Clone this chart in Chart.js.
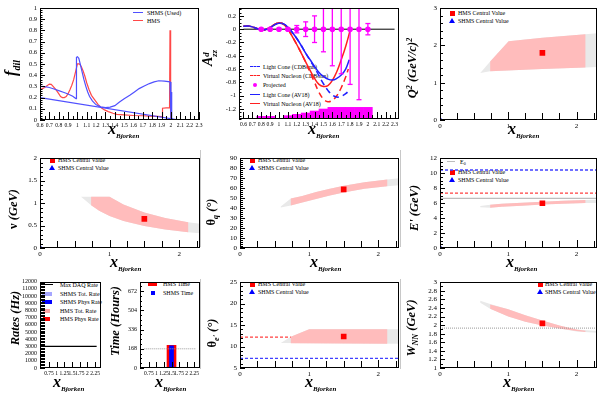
<!DOCTYPE html>
<html><head><meta charset="utf-8">
<script src="https://cdn.jsdelivr.net/npm/chart.js@4.4.1/dist/chart.umd.min.js"></script>
<style>
html,body{margin:0;padding:0;background:#fff;}
#root{position:relative;width:600px;height:400px;overflow:hidden;font-family:"Liberation Serif","Times New Roman",serif;color:#000;}
canvas{position:absolute;z-index:2;}
.lg{position:absolute;z-index:1;font-size:6px;line-height:6px;white-space:nowrap;}
.sym{position:absolute;z-index:1;}
.yt{position:absolute;z-index:3;transform:translate(-50%,-50%) rotate(-90deg);font-weight:bold;font-style:italic;font-size:12.5px;line-height:14px;white-space:nowrap;}
.xt{position:absolute;z-index:3;font-weight:bold;font-style:italic;font-size:16px;line-height:16px;white-space:nowrap;}
.xt .s{font-size:7px;position:relative;top:4px;}
.yt .sb{font-size:0.65em;position:relative;top:0.35em;}
.yt .sp{font-size:0.65em;position:relative;top:-0.45em;}
.yt .stk{display:inline-block;font-size:0.7em;line-height:0.85em;vertical-align:-0.55em;text-align:left;}
.pad{position:absolute;width:1px;background:#c8c8c8;z-index:0;}
</style></head>
<body><div id="root"></div>
<script>
// ---------------- DATA ----------------
// Panel 1: dilution factor vs x
const fdilShmsX = [0.6,0.65,0.7,0.75,0.8,0.85,0.9,0.95,0.975,0.985,0.99,1.0,1.015,1.03,1.05,1.07,1.09,1.11,1.13,1.16,1.2,1.25,1.3,1.35,1.4,1.45,1.5,1.56,1.61,1.66,1.72,1.77,1.82,1.87,1.93,1.99,2.0,2.004,2.008,2.09,0.6];
const fdilShmsY = [0.30,0.298,0.29,0.277,0.262,0.248,0.232,0.212,0.197,0.19,0.56,0.565,0.55,0.5,0.43,0.36,0.3,0.25,0.21,0.17,0.135,0.118,0.11,0.115,0.128,0.16,0.19,0.22,0.25,0.28,0.305,0.325,0.34,0.35,0.346,0.34,0.0,0.25,0.0,0.0,0.2];
const fdilHmsX = [0.6,0.625,0.65,0.675,0.7,0.72,0.74,0.77,0.8,0.82,0.84,0.86,0.88,0.9,0.92,0.94,0.96,0.98,1.0,1.02,1.04,1.06,1.08,1.1,1.125,1.15,1.185,1.22,1.255,1.29,1.33,1.38,1.42,1.5,1.6,1.7,1.77,1.85,1.905,1.91,1.95,1.985,1.99,1.993,1.997,2.0];
const fdilHmsY = [0.27,0.28,0.29,0.305,0.32,0.318,0.30,0.27,0.235,0.21,0.2,0.2,0.21,0.235,0.27,0.31,0.36,0.43,0.5,0.5,0.48,0.44,0.39,0.33,0.27,0.22,0.18,0.14,0.11,0.09,0.075,0.06,0.05,0.045,0.04,0.038,0.035,0.033,0.03,0.105,0.108,0.108,0.8,0.62,0.3,0.0];
const fdilXTicks = [0.6,0.7,0.8,0.9,1,1.1,1.2,1.3,1.4,1.5,1.6,1.7,1.8,1.9,2,2.1,2.2,2.3];
const fdilYTicks = [0,0.1,0.2,0.3,0.4,0.5,0.6,0.7,0.8,0.9,1];

// Panel 2: tensor asymmetry A_zz
const lcAv18X  = [0.6,0.65,0.7,0.75,0.8,0.85,0.9,0.95,1.0,1.05,1.1,1.15,1.2,1.25,1.3,1.35,1.4,1.45,1.5,1.55,1.6,1.65,1.7,1.75,1.79];
const lcAv18Y  = [0.044,0.047,0.035,0.01,-0.01,-0.005,0.025,0.065,0.09,0.08,0.03,-0.05,-0.14,-0.245,-0.36,-0.46,-0.56,-0.65,-0.71,-0.75,-0.765,-0.74,-0.69,-0.6,-0.46];
const lcCdbX   = [0.6,0.65,0.7,0.75,0.8,0.85,0.9,0.95,1.0,1.05,1.1,1.15,1.2,1.25,1.3,1.35,1.4,1.45,1.5,1.55,1.6,1.65,1.7,1.75,1.79];
const lcCdbY   = [0.044,0.047,0.035,0.01,-0.01,-0.005,0.025,0.065,0.09,0.08,0.03,-0.05,-0.14,-0.245,-0.36,-0.47,-0.58,-0.7,-0.82,-0.92,-0.99,-1.02,-1.01,-0.97,-0.92];
const vnAv18X  = [0.6,0.65,0.7,0.75,0.8,0.85,0.9,0.95,1.0,1.05,1.1,1.15,1.2,1.25,1.3,1.35,1.4,1.45,1.5,1.55,1.6,1.65,1.7,1.75,1.8];
const vnAv18Y  = [0.044,0.047,0.035,0.01,-0.012,-0.005,0.03,0.07,0.095,0.075,0.0,-0.11,-0.23,-0.36,-0.49,-0.62,-0.74,-0.83,-0.86,-0.85,-0.77,-0.64,-0.46,-0.26,-0.02];
const vnCdbX   = [0.6,0.65,0.7,0.75,0.8,0.85,0.9,0.95,1.0,1.05,1.1,1.15,1.2,1.25,1.3,1.35,1.4,1.45,1.5,1.55,1.6,1.65,1.7,1.75,1.78];
const vnCdbY   = [0.044,0.047,0.035,0.01,-0.012,-0.005,0.03,0.07,0.095,0.075,0.0,-0.11,-0.23,-0.36,-0.5,-0.65,-0.8,-0.95,-1.05,-1.09,-1.07,-1.0,-0.88,-0.72,-0.6];
const projX    = [0.8,0.9,1.0,1.1,1.2,1.3,1.4,1.5,1.6,1.7,1.8,1.9,2.0];
const projY    = [0,0,0,0,0,0,0,0,0,0,0,0,0];
const projErr  = [0.012,0.012,0.012,0.015,0.055,0.11,0.2,0.34,0.55,0.67,0.83,1.06,0.085];
const sysX     = [0.8,0.9,1.1,1.2,1.3,1.4,1.5,1.6,1.7,1.8,1.9,2.0];
const sysTop   = [-1.31,-1.31,-1.3,-1.28,-1.26,-1.23,-1.2,-1.175,-1.175,-1.175,-1.175,-1.175];
const azzYTicks = [-1.2,-1,-0.8,-0.6,-0.4,-0.2,0,0.2];

// Kinematic panels (x ticks shared)
const kinXTicks = [0,1,2];
const hmsCentralX = 1.5;
const shmsCentralX = 0;
// Q^2
const q2PinkX = [0.735,0.735,1.005,1.5,2.13,2.13,1.5,0.735];
const q2PinkY = [1.31,1.57,2.11,2.21,2.30,1.41,1.37,1.31];
const q2GrayX = [0.59,0.735,1.005,1.5,2.13,2.3,2.3,2.13,1.5,0.735,0.59];
const q2GrayY = [1.26,1.57,2.11,2.21,2.30,2.33,1.42,1.41,1.37,1.31,1.26];
const q2Central = [1.8, 0];
const q2YTicks = [0,1,2,3];
// nu
const nuPinkX = [0.735,1.0,1.2,1.5,1.8,2.13,2.13,1.8,1.5,1.2,1.0,0.85,0.735];
const nuPinkY = [1.14,1.14,0.97,0.79,0.67,0.575,0.35,0.41,0.49,0.6,0.71,0.83,0.95];
const nuGrayX = [0.59,1.0,1.2,1.5,1.8,2.13,2.3,2.3,2.13,1.8,1.5,1.2,1.0,0.85,0.735,0.59];
const nuGrayY = [1.14,1.14,0.97,0.79,0.67,0.575,0.54,0.33,0.35,0.41,0.49,0.6,0.71,0.83,0.95,1.14];
const nuCentral = [0.65, 0];
const nuYTicks = [0,0.5,1,1.5,2];
// theta_q
const thqPinkX = [0.735,0.9,1.1,1.3,1.5,1.8,2.13,2.13,1.8,1.5,1.3,1.1,0.9,0.735];
const thqPinkY = [49.5,52,56,59.5,62.3,66,68.7,62,59.5,55.7,52.5,49,45.5,42.5];
const thqGrayX = [0.59,0.735,0.9,1.1,1.3,1.5,1.8,2.13,2.3,2.3,2.13,1.8,1.5,1.3,1.1,0.9,0.735,0.59];
const thqGrayY = [41.5,49.5,52,56,59.5,62.3,66,68.7,70,63,62,59.5,55.7,52.5,49,45.5,42.5,40.5];
const thqCentral = [58.8, 0];
const thqYTicks = [0,10,20,30,40,50,60,70,80,90];
// E'
const epPinkX = [0.735,0.9,1.2,1.5,1.8,2.13,2.13,1.8,1.5,1.2,0.9,0.735];
const epPinkY = [5.78,5.9,6.05,6.17,6.3,6.42,6.0,5.92,5.8,5.65,5.5,5.38];
const epGrayX = [0.59,0.735,0.9,1.2,1.5,1.8,2.13,2.3,2.3,2.13,1.8,1.5,1.2,0.9,0.735,0.59];
const epGrayY = [5.62,5.78,5.9,6.05,6.17,6.3,6.42,6.46,6.02,6.0,5.92,5.8,5.65,5.5,5.38,5.45];
const epCentral = [5.98, 0];
const beamE0 = 6.64, hmsEp = 7.34, shmsEp = 10.42;
const epYTicks = [0,2,4,6,8,10,12];
// Rates
const rateX = [1.5];
const hmsTotRate = [90], hmsPhysRate = [60], shmsTotRate = [0], shmsPhysRate = [0];
const maxDaqRate = 3000;
const rateXTicks = [0.75,1,1.25,1.5,1.75,2,2.25];
const rateYTicks = [0,1000,2000,3000,4000,5000,6000,7000,8000,9000,10000,11000,12000];
// Time
const timeX = [1.5];
const hmsTime = [198], shmsTime = [195];
const timeRef = 168;
const timeYTicks = [0,168,336,504,672];
// theta_e'
const thePinkX = [0.735,0.735,1.0,2.13,2.13,0.735];
const thePinkY = [10.75,12.3,14.05,14.05,10.65,10.75];
const theGrayX = [0.59,0.735,1.0,2.3,2.3,0.59];
const theGrayY = [10.85,12.3,14.05,14.05,10.65,10.85];
const theCentral = [12.35];
const hmsTheta = 12.2, shmsTheta = 7.23;
const theYTicks = [5,10,15,20,25];
// W
const wPinkX = [0.735,1.0,1.25,1.5,1.75,2.0,2.13,2.13,2.0,1.75,1.5,1.25,1.0,0.735];
const wPinkY = [2.48,2.37,2.23,2.11,1.99,1.9,1.87,1.84,1.86,1.92,1.99,2.08,2.2,2.38];
const wGrayX = [0.59,0.735,1.0,1.25,1.5,1.75,2.0,2.3,2.3,2.0,1.75,1.5,1.25,1.0,0.735,0.59];
const wGrayY = [2.57,2.49,2.37,2.23,2.11,1.99,1.9,1.86,1.82,1.85,1.92,1.99,2.08,2.2,2.38,2.52];
const wCentral = [2.04];
const wRef = 1.93;
const wYTicks = [1,1.2,1.4,1.6,1.8,2,2.2,2.4,2.6,2.8,3];

// ---------------- STYLE / HELPERS ----------------
const RED='#ff0000', BLUE='#0000ff', PINK='#ffbcbc', GRAY='#e9e9e9';
Chart.defaults.font.family='"Liberation Serif","Times New Roman",serif';
Chart.defaults.color='#000';

const rootFrame={
  id:'rootFrame',
  afterDatasetsDraw(chart,args,o){
    const ctx=chart.ctx,a=chart.chartArea,xs=chart.scales.x,ys=chart.scales.y;
    ctx.save();ctx.strokeStyle='#000';ctx.lineWidth=1;
    ctx.strokeRect(Math.round(a.left)+0.5,Math.round(a.top)+0.5,Math.round(a.right-a.left)-1,Math.round(a.bottom-a.top)-1);
    const marks=(sc,step,len,isX)=>{
      const n0=Math.ceil(sc.min/step-1e-6),n1=Math.floor(sc.max/step+1e-6);
      ctx.beginPath();
      for(let n=n0;n<=n1;n++){
        const p=Math.round(sc.getPixelForValue(n*step))+0.5;
        if(isX){ctx.moveTo(p,a.bottom);ctx.lineTo(p,a.bottom-len);}
        else{ctx.moveTo(a.left,p);ctx.lineTo(a.left+len,p);}
      }
      ctx.stroke();
    };
    if(o.x){marks(xs,o.x[1],o.x[3],true);marks(xs,o.x[0],o.x[2],true);}
    if(o.y){marks(ys,o.y[1],o.y[3],false);marks(ys,o.y[0],o.y[2],false);}
    ctx.restore();
  }
};
Chart.register(rootFrame);

const root=document.getElementById('root');
const fmt=v=>String(+(+v).toFixed(3));
const P=(xs,ys)=>xs.map((x,i)=>({x,y:ys[i]}));
const line=(xs,ys,color,extra={})=>Object.assign({type:'line',data:P(xs,ys),borderColor:color,backgroundColor:color,borderWidth:1.2,pointRadius:0,fill:false,order:2,clip:0},extra);
const hline=(x0,x1,v,color,extra={})=>line([x0,x1],[v,v],color,extra);
const poly=(xs,ys,color,order)=>({type:'line',data:P(xs,ys),borderWidth:0,borderColor:'rgba(0,0,0,0)',backgroundColor:color,fill:'shape',pointRadius:0,order,clip:0});
const mark=(x,y,color,style,r=4)=>({type:'line',data:[{x,y}],showLine:false,pointRadius:r,pointStyle:style,pointBackgroundColor:color,pointBorderColor:color,pointBorderWidth:0,order:0});

function makeChart(rect,o){
  const [L,T,R,B]=rect;const pL=40,pT=6,pR=10,pB=16;
  const cv=document.createElement('canvas');
  cv.width=R-L+pL+pR;cv.height=B-T+pT+pB;
  cv.style.left=(L-pL)+'px';cv.style.top=(T-pT)+'px';
  root.appendChild(cv);
  const fs=o.fs||7, fx=o.fx||fs;
  const axis=(range,ticks,isX)=>({
    type:'linear',min:range[0],max:range[1],
    afterFit(s){if(isX)s.height=pB;else s.width=pL;},
    afterBuildTicks(s){s.ticks=ticks.map(v=>({value:v}));},
    ticks:{autoSkip:false,maxRotation:0,minRotation:0,padding:isX?2:3,font:{size:isX?fx:fs},color:'#000',callback:v=>fmt(v)},
    grid:{display:false,drawTicks:false},border:{display:false}
  });
  return new Chart(cv,{type:'line',data:{datasets:o.datasets},options:{
    responsive:false,animation:false,devicePixelRatio:1,events:[],
    layout:{padding:{left:0,top:pT,right:pR,bottom:0}},
    plugins:{legend:{display:false},tooltip:{enabled:false},rootFrame:{x:o.xt,y:o.yt}},
    scales:{x:axis(o.xr,o.xticks,true),y:axis(o.yr,o.yticks,false)}
  }});
}

// ---------------- CHARTS ----------------
makeChart([40,7,199,120],{fx:5.6,fs:6.5,xr:[0.6,2.3],yr:[0,1],xticks:fdilXTicks,yticks:fdilYTicks,xt:[0.1,0.05,8,4],yt:[0.1,0.02,5,2.5],
  datasets:[line(fdilShmsX,fdilShmsY,'#5050ff'),line(fdilHmsX,fdilHmsY,'#ff4848')]});

const errData=projX.flatMap((x,i)=>[{x,y:projY[i]-projErr[i]},{x,y:projY[i]+projErr[i]},{x,y:null}]);
makeChart([239,7,399,119],{fx:5.6,fs:6.5,xr:[0.6,2.3],yr:[-1.35,0.32],xticks:fdilXTicks,yticks:azzYTicks,xt:[0.1,0.05,7,4],yt:[0.2,0.05,5,2.5],
  datasets:[
    hline(0.6,2.3,0,'#000',{borderWidth:1,order:3}),
    line(projX,projY,'#ff00ff',{showLine:false,pointRadius:2.2,pointStyle:'circle',pointBackgroundColor:'#ff00ff',order:0}),
    {type:'line',data:errData,borderColor:'#ff00ff',borderWidth:1.3,spanGaps:false,pointRadius:2.5,pointStyle:'line',pointBorderColor:'#ff00ff',pointBorderWidth:1.3,order:1,clip:0},
    line(lcCdbX,lcCdbY,'#2020ff',{borderDash:[6,4],borderWidth:1.5,tension:0.4}),
    line(vnCdbX,vnCdbY,'#ff2020',{borderDash:[6,4],borderWidth:1.5,tension:0.4}),
    line(lcAv18X,lcAv18Y,'#2020ff',{borderWidth:1.5,tension:0.4}),
    line(vnAv18X,vnAv18Y,'#ff2020',{borderWidth:1.5,tension:0.4}),
    {type:'bar',data:sysX.map((x,i)=>({x,y:[-1.35,sysTop[i]]})),backgroundColor:'#ff00ff',barPercentage:1,categoryPercentage:1,grouped:false,order:4}
  ]});

makeChart([440,7,597,120],{xr:[0,2.3],yr:[0,3],xticks:kinXTicks,yticks:q2YTicks,xt:[1,0.25,8,7],yt:[1,0.2,5,3],
  datasets:[mark(hmsCentralX,q2Central[0],RED,'rect'),mark(shmsCentralX,q2Central[1],BLUE,'triangle'),poly(q2PinkX,q2PinkY,PINK,5),poly(q2GrayX,q2GrayY,GRAY,6)]});

makeChart([40,157,200,248],{xr:[0,2.3],yr:[0,2],xticks:kinXTicks,yticks:nuYTicks,xt:[1,0.25,8,7],yt:[0.5,0.1,5,3],
  datasets:[mark(hmsCentralX,nuCentral[0],RED,'rect'),mark(shmsCentralX,nuCentral[1],BLUE,'triangle'),poly(nuPinkX,nuPinkY,PINK,5),poly(nuGrayX,nuGrayY,GRAY,6)]});

makeChart([240,157,399,248],{xr:[0,2.3],yr:[0,90],xticks:kinXTicks,yticks:thqYTicks,xt:[1,0.25,8,7],yt:[10,2,5,3],
  datasets:[mark(hmsCentralX,thqCentral[0],RED,'rect'),mark(shmsCentralX,thqCentral[1],BLUE,'triangle'),poly(thqPinkX,thqPinkY,PINK,5),poly(thqGrayX,thqGrayY,GRAY,6)]});

makeChart([440,157,597,248],{xr:[0,2.3],yr:[0,12],xticks:kinXTicks,yticks:epYTicks,xt:[1,0.25,8,7],yt:[2,0.5,5,3],
  datasets:[mark(hmsCentralX,epCentral[0],RED,'rect'),mark(shmsCentralX,epCentral[1],BLUE,'triangle'),
    hline(0,2.3,beamE0,'#bdbdbd',{borderWidth:1.3}),
    hline(0,2.3,hmsEp,'#ff4040',{borderDash:[3,2],borderWidth:1.3}),
    hline(0,2.3,shmsEp,'#4040ff',{borderDash:[3,2],borderWidth:1.3}),
    poly(epPinkX,epPinkY,PINK,5),poly(epGrayX,epGrayY,GRAY,6)]});

makeChart([40,281,101,368],{fs:6,fx:5.5,xr:[0.6,2.3],yr:[0,12000],xticks:rateXTicks,yticks:rateYTicks,xt:[0.25,0.25,6,6],yt:[1000,200,5,5],
  datasets:[hline(0.6,2.3,maxDaqRate,'#000',{borderWidth:1.2}),
    {type:'bar',data:P(rateX,hmsTotRate),backgroundColor:'#ffa6a6',barThickness:4,grouped:false,order:3},
    {type:'bar',data:P(rateX,hmsPhysRate),backgroundColor:RED,barThickness:4,grouped:false,order:2},
    {type:'bar',data:P(rateX,shmsTotRate),backgroundColor:'#a6a6ff',barThickness:4,grouped:false,order:3},
    {type:'bar',data:P(rateX,shmsPhysRate),backgroundColor:BLUE,barThickness:4,grouped:false,order:2}]});

makeChart([140,281,200,368],{fs:6,fx:5.5,xr:[0.6,2.3],yr:[0,756],xticks:rateXTicks,yticks:timeYTicks,xt:[0.25,0.25,6,6],yt:[168,42,4,2],
  datasets:[hline(0.6,2.3,timeRef,'#999',{borderDash:[1,1],borderWidth:1,order:1}),
    {type:'bar',data:P(timeX,shmsTime),backgroundColor:BLUE,barThickness:4,grouped:false,order:2},
    {type:'bar',data:P(timeX,hmsTime),backgroundColor:RED,barThickness:9,grouped:false,order:3}]});

makeChart([240,281,399,368],{xr:[0,2.3],yr:[5,25],xticks:kinXTicks,yticks:theYTicks,xt:[1,0.25,8,7],yt:[5,1,5,3],
  datasets:[mark(hmsCentralX,theCentral[0],RED,'rect'),
    hline(0,0.735,hmsTheta,'#ff4040',{borderDash:[3,2],borderWidth:1.3}),
    hline(0,2.3,shmsTheta,'#4040ff',{borderDash:[3,2],borderWidth:1.3}),
    poly(thePinkX,thePinkY,PINK,5),poly(theGrayX,theGrayY,GRAY,6)]});

makeChart([440,281,597,368],{xr:[0,2.3],yr:[1,3],xticks:kinXTicks,yticks:wYTicks,xt:[1,0.25,8,7],yt:[0.2,0.1,5,3],
  datasets:[mark(hmsCentralX,wCentral[0],RED,'rect'),
    hline(0,2.3,wRef,'#999',{borderDash:[1,1],borderWidth:1}),
    poly(wPinkX,wPinkY,PINK,5),poly(wGrayX,wGrayY,GRAY,6)]});

// ---------------- TEXT: axis titles, legends ----------------
function el(cls,html,css){const d=document.createElement('div');d.className=cls;d.innerHTML=html;Object.assign(d.style,css);root.appendChild(d);return d;}
const yTitles=[
  [12,68,'<span style="font-size:16px">f</span><span class="sb" style="font-size:10px">dil</span>'],
  [210,58,'<span style="font-size:14px">A</span><span class="stk">d<br>zz</span>'],
  [413,68,'Q<span class="sp">2</span> (GeV/c)<span class="sp">2</span>'],
  [13,209,'<span style="font-style:normal">ν</span> (GeV)'],
  [212,212,'<span style="font-style:normal">θ</span><span class="sb">q</span> (°)'],
  [414,208,'E\' (GeV)'],
  [15,318,'Rates (Hz)'],
  [115,321,'Time (Hours)'],
  [213,333,'<span style="font-style:normal">θ</span><span class="sb">e\'</span> (°)'],
  [412,328,'W<span class="sb">NN</span> (GeV)']
];
yTitles.forEach(t=>el('yt',t[2],{left:t[0]+'px',top:t[1]+'px'}));
const xTitles=[[108,121],[308,121],[508,121],[110,254],[310,254],[506,254],[53,374],[155,374],[305,374],[503,374]];
xTitles.forEach(t=>el('xt','x<span class="s">Bjorken</span>',{left:t[0]+'px',top:t[1]+'px'}));

function sym(kind,x,y,color,w=10,h=4){
  const css={};
  if(kind==='line'||kind==='dash'){Object.assign(css,{left:x+'px',top:(y-1)+'px',width:w+'px',height:'0px',borderTop:(kind==='dash'?'1.5px dashed ':'1.5px solid ')+color});}
  else if(kind==='sq'){Object.assign(css,{left:(x-2.5)+'px',top:(y-2.5)+'px',width:'5px',height:'5px',background:color});}
  else if(kind==='tri'){Object.assign(css,{left:(x-3)+'px',top:(y-3)+'px',width:'0',height:'0',borderLeft:'3px solid transparent',borderRight:'3px solid transparent',borderBottom:'5px solid '+color});}
  else if(kind==='box'){Object.assign(css,{left:x+'px',top:(y-h/2)+'px',width:w+'px',height:h+'px',background:color});}
  else if(kind==='proj'){Object.assign(css,{left:(x-2)+'px',top:(y-2)+'px',width:'4px',height:'4px',borderRadius:'50%',background:color});}
  el('sym','',css);
}
function lg(x,y,html){el('lg',html,{left:x+'px',top:(y-3.2)+'px'});}
// panel 1
sym('line',133,13,'#5050ff');lg(147,13,'SHMS (Used)');
sym('line',133,21,'#ff4848');lg(147,21,'HMS');
// panel 2
sym('dash',250,67,'#2020ff');lg(263,67,'Light Cone (CDBonn)');
sym('dash',250,76,'#ff2020');lg(263,76,'Virtual Nucleon (CDBonn)');
sym('proj',255,85,'#ff00ff');lg(263,85,'Projected');
sym('line',250,95,'#2020ff');lg(263,95,'Light Cone (AV18)');
sym('line',250,104,'#ff2020');lg(263,104,'Virtual Nucleon (AV18)');
// kinematic legends
[[452,13],[52,160],[252,160],[252,284]].forEach(p=>{sym('sq',p[0],p[1],RED);lg(p[0]+6,p[1],'HMS Central Value');sym('tri',p[0],p[1]+8,BLUE);lg(p[0]+6,p[1]+8,'SHMS Central Value');});
sym('line',447,162,'#bdbdbd',8);lg(460,162,'E<sub style="font-size:4px;vertical-align:-1px">0</sub>');
sym('sq',452,172,RED);lg(458,172,'HMS Central Value');sym('tri',452,180,BLUE);lg(458,180,'SHMS Central Value');
sym('sq',540,284,RED);lg(545,284,'HMS Central Value');sym('tri',540,292,BLUE);lg(545,292,'SHMS Central Value');
// rates legend
sym('line',45,285,'#000',8);lg(60,285,'Max DAQ Rate');
sym('box',42,294,'#a6a6ff',10,4);lg(60,294,'SHMS Tot. Rate');
sym('box',42,302,BLUE,10,4);lg(60,302,'SHMS Phys Rate');
sym('box',43,311,'#ffa6a6',7,4);lg(60,311,'HMS Tot. Rate');
sym('box',43,319,RED,7,4);lg(60,319,'HMS Phys Rate');
// time legend
sym('box',148,284,RED,9,4);lg(163,284,'HMS Time');
sym('box',151,293,BLUE,4,4);lg(163,293,'SHMS Time');
// pad borders
[[200,150,97],[400,150,97],[200,279,90],[400,279,90]].forEach(p=>el('pad','',{left:p[0]+'px',top:p[1]+'px',height:p[2]+'px'}));
</script>
</body></html>
